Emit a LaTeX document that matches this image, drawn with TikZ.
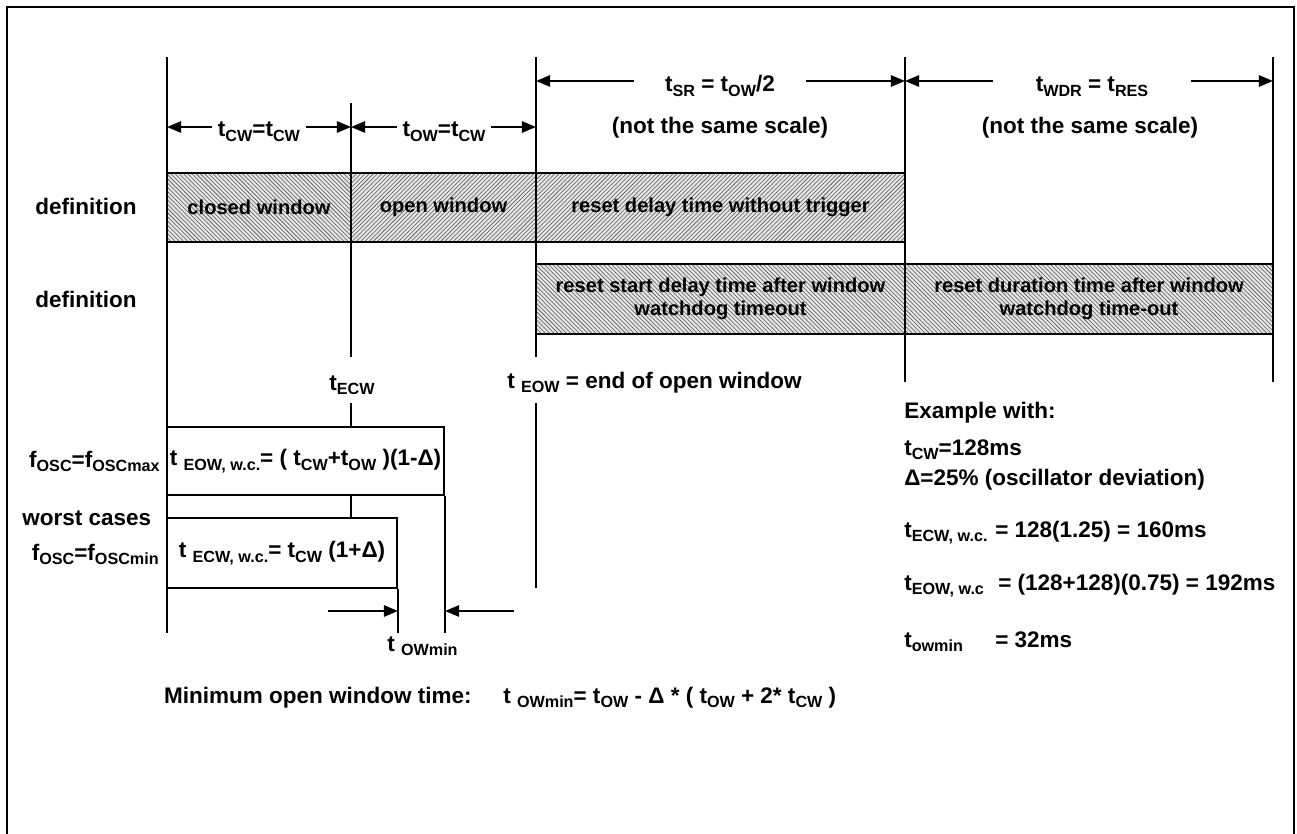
\documentclass[tikz,border=0pt]{standalone}
\usepackage{fontspec}
\setmainfont{Liberation Sans}
\usetikzlibrary{arrows.meta,patterns,positioning}
\newcommand{\sbs}[1]{\raisebox{-3.5pt}{\fontsize{11.5}{12}\selectfont #1}}

\begin{document}
\begin{tikzpicture}[
    x=0.025cm,y=-0.025cm,inner sep=0pt,
    font=\fontsize{16}{19}\selectfont\bfseries,
    tline/.style={line width=0.8pt},
    span/.style={line width=1.4pt,-{Triangle[length=10pt,width=8pt]}},
    lbl/.style={anchor=base,inner xsep=4pt},
    hatch/.style={draw,line width=1.4pt,
      preaction={fill=gray!20},
      preaction={pattern=#1,pattern color=black!65}},
    boxlbl/.style={font=\fontsize{14.3}{16}\selectfont\bfseries,align=center},
    plainbox/.style={draw,line width=1.4pt,fill=white}
    ]
    \useasboundingbox (0,0) rectangle (1297,834);
    \draw[line width=2pt] (7,850) -- (7,7) -- (1294,7) -- (1294,850);
    % time marks
    \coordinate (T0) at (167,0);
    \coordinate (T1) at (351,0);
    \coordinate (T2) at (536,0);
    \coordinate (T3) at (905,0);
    \coordinate (T4) at (1273,0);
    \coordinate (r1) at (0,81);
    \coordinate (r2) at (0,127);
    \coordinate (r3) at (0,611);
    \draw[tline] (167,57) -- (167,633);
    \draw[tline] (351,103) -- (351,357) (351,403) -- (351,518);
    \draw[tline] (536,57) -- (536,357) (536,403) -- (536,588);
    \draw[tline] (905,57) -- (905,382);
    \draw[tline] (1273,57) -- (1273,382);
    % spans
    \node[lbl] (tcw) at (259,137) {t\sbs{CW}=t\sbs{CW}};
    \node[lbl] (tow) at (444,137) {t\sbs{OW}=t\sbs{CW}};
    \node[lbl,inner xsep=22pt] (tsr) at (720,92) {t\sbs{SR} = t\sbs{OW}/2};
    \node[lbl,inner xsep=30pt] (twdr) at (1092,92) {t\sbs{WDR} = t\sbs{RES}};
    \node[lbl] (sc1) at (720,134) {(not the same scale)};
    \node[lbl] (sc2) at (1090,134) {(not the same scale)};
    \draw[span] (tcw.west |- r2) -- (T0 |- r2);
    \draw[span] (tcw.east |- r2) -- (T1 |- r2);
    \draw[span] (tow.west |- r2) -- (T1 |- r2);
    \draw[span] (tow.east |- r2) -- (T2 |- r2);
    \draw[span] (tsr.west |- r1) -- (T2 |- r1);
    \draw[span] (tsr.east |- r1) -- (T3 |- r1);
    \draw[span] (twdr.west |- r1) -- (T3 |- r1);
    \draw[span] (twdr.east |- r1) -- (T4 |- r1);
    % definition rows
    \node[anchor=base] (def1) at (86,215) {definition};
    \node[anchor=base] (def2) at (86,308) {definition};
    \node[hatch=north west lines,boxlbl,minimum width=4.6cm,minimum height=1.725cm] (cw) at (259,207.5) {closed window};
    \node[hatch=north east lines,boxlbl,minimum width=4.625cm,minimum height=1.725cm] (ow) at (443.5,207.5) {open window};
    \node[hatch=north east lines,boxlbl,minimum width=9.225cm,minimum height=1.725cm] (rd) at (720.5,207.5) {reset delay time without trigger};
    \node[hatch=north west lines,boxlbl,minimum width=9.225cm,minimum height=1.75cm] (rs) at (720.5,299) {reset start delay time after window\\watchdog timeout};
    \node[hatch=north west lines,boxlbl,minimum width=9.2cm,minimum height=1.75cm] (rdur) at (1089,299) {reset duration time after window\\watchdog time-out};
    % end of windows
    \node[anchor=base] (tecw) at (352,390) {t\sbs{ECW}};
    \node[anchor=base west] (teow) at (507,388) {t \sbs{EOW} = end of open window};
    % worst cases
    \node[plainbox,minimum width=6.925cm,minimum height=1.7cm] (eow) at (305.5,461) {t \sbs{EOW, w.c.}= ( t\sbs{CW}+t\sbs{OW} )(1-Δ)};
    \node[plainbox,minimum width=5.75cm,minimum height=1.75cm] (ecw) at (282,553) {t \sbs{ECW, w.c.}= t\sbs{CW} (1+Δ)};
    \node[anchor=base east] (fmax) at (160,467) {f\sbs{OSC}=f\sbs{OSCmax}};
    \node[anchor=base west] (worst) at (22,525) {worst cases};
    \node[anchor=base east] (fmin) at (159,560) {f\sbs{OSC}=f\sbs{OSCmin}};
    \draw[tline] (eow.south east) -- (eow.south east |- 0,633);
    \draw[tline] (ecw.south east) -- (ecw.south east |- 0,633);
    \coordinate (owl) at (328,611);
    \coordinate (owr) at (514,611);
    \draw[span] (owl) -- (ecw.south east |- r3);
    \draw[span] (owr) -- (eow.south east |- r3);
    \node[anchor=base west] (towmin) at (387,651) {t \sbs{OWmin}};
    \node[anchor=base east] (mintxt) at (472,703) {Minimum open window time:};
    \node[anchor=base west] (minf) at (503,703) {t \sbs{OWmin}= t\sbs{OW} - Δ * ( t\sbs{OW} + 2* t\sbs{CW} )};
    % example
    \node[anchor=base west] (ex1) at (904,418) {Example with:};
    \node[anchor=base west] (ex2) at (904,455) {t\sbs{CW}=128ms};
    \node[anchor=base west] (ex3) at (904,485) {Δ=25\% (oscillator deviation)};
    \node[anchor=base west] (ex4) at (904,537) {t\sbs{ECW, w.c.}};
    \node[anchor=base west] (ex4v) at (995,537) {= 128(1.25) = 160ms};
    \node[anchor=base west] (ex5) at (904,590) {t\sbs{EOW, w.c}};
    \node[anchor=base west] (ex5v) at (998,590) {= (128+128)(0.75) = 192ms};
    \node[anchor=base west] (ex6) at (904,647) {t\sbs{owmin}};
    \node[anchor=base west] (ex6v) at (995,647) {= 32ms};
\end{tikzpicture}
\end{document}
